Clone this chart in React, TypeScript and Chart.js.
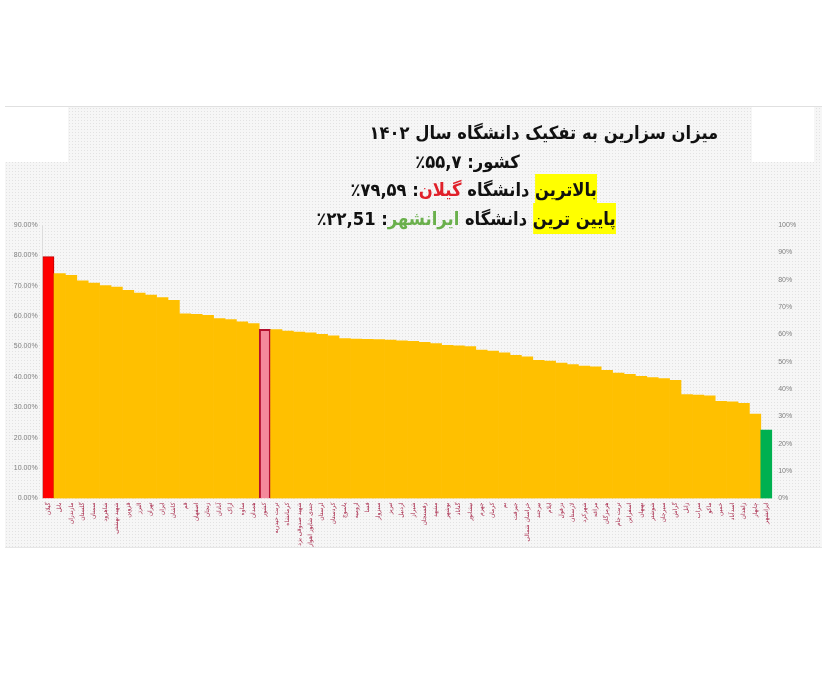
import React, { useEffect, useRef } from "react";
import { Chart, registerables } from "chart.js";

Chart.register(...registerables);

const categories: string[] = [
  "گیلان", "بابل", "مازندران", "گلستان", "سمنان", "شاهرود", "شهید بهشتی", "قزوین",
  "البرز", "تهران", "ایران", "کاشان", "قم", "اصفهان", "زنجان", "آبادان",
  "اراک", "ساوه", "همدان", "کشور", "تربت حیدریه", "کرمانشاه", "شهید صدوقی یزد", "جندی شاپور اهواز",
  "لرستان", "کردستان", "یاسوج", "ارومیه", "فسا", "سبزوار", "تبریز", "اردبیل",
  "شیراز", "رفسنجان", "مشهد", "بوشهر", "گناباد", "نیشابور", "جهرم", "کرمان",
  "بم", "جیرفت", "خراسان شمالی", "بیرجند", "ایلام", "دزفول", "لارستان", "شهرکرد",
  "مراغه", "هرمزگان", "تربت جام", "اسفراین", "بهبهان", "شوشتر", "سیرجان", "گراش",
  "زابل", "سراب", "ماکو", "خمین", "اسدآباد", "زاهدان", "چابهار", "ایرانشهر",
];

const values: number[] = [
  79.59, 74.0, 73.4, 71.6, 70.9, 70.1, 69.6, 68.5,
  67.6, 66.9, 66.1, 65.2, 60.8, 60.6, 60.3, 59.2,
  58.9, 58.1, 57.6, 55.7, 55.6, 55.1, 54.8, 54.5,
  54.0, 53.5, 52.6, 52.5, 52.4, 52.3, 52.1, 51.9,
  51.7, 51.4, 51.0, 50.4, 50.2, 50.0, 48.8, 48.5,
  47.9, 47.1, 46.6, 45.5, 45.2, 44.6, 44.1, 43.6,
  43.3, 42.2, 41.3, 40.9, 40.2, 39.8, 39.5, 38.9,
  34.2, 34.0, 33.8, 32.0, 31.8, 31.3, 27.8, 22.51,
];

const leftTicks: number[] = [0, 10, 20, 30, 40, 50, 60, 70, 80, 90];
const rightTicks: number[] = [0, 10, 20, 30, 40, 50, 60, 70, 80, 90, 100];

const HIGHEST = "گیلان";
const LOWEST = "ایرانشهر";
const COUNTRY = "کشور";

export default function App() {
  const ref = useRef<HTMLCanvasElement | null>(null);

  useEffect(() => {
    if (!ref.current) return;
    const bg = categories.map((c) =>
      c === HIGHEST ? "#FF0000" : c === LOWEST ? "#00B050" : c === COUNTRY ? "#F4899B" : "#FFC000"
    );
    const bc = categories.map((c) =>
      c === HIGHEST ? "#C00000" : c === LOWEST ? "#00A048" : c === COUNTRY ? "#B4102E" : "#FFC000"
    );
    const bw = categories.map((c) => (c === COUNTRY ? 2 : c === HIGHEST ? 1 : 0));

    const chart = new Chart(ref.current, {
      type: "bar",
      data: {
        labels: categories,
        datasets: [
          {
            data: values,
            backgroundColor: bg,
            borderColor: bc,
            borderWidth: bw,
            barPercentage: 1,
            categoryPercentage: 1,
            yAxisID: "y",
          },
        ],
      },
      options: {
        responsive: false,
        animation: false,
        devicePixelRatio: 1,
        layout: { padding: { top: 119, left: 0, right: 0, bottom: 0 } },
        plugins: { legend: { display: false }, tooltip: { enabled: false }, title: { display: false } },
        scales: {
          x: {
            grid: { display: false, drawTicks: false },
            border: { display: false },
            ticks: {
              autoSkip: false,
              maxRotation: 90,
              minRotation: 90,
              padding: 4,
              color: "#A8284A",
              font: { family: "DejaVu Sans", size: 6 },
            },
            afterFit: (s: any) => {
              s.height = 87.5;
            },
          },
          y: {
            position: "left",
            min: 0,
            max: 90,
            grid: { display: false, drawTicks: false },
            border: { display: true, color: "#dcdcdc" },
            afterBuildTicks: (s: any) => {
              s.ticks = leftTicks.map((v) => ({ value: v }));
            },
            ticks: {
              padding: 5,
              color: "#808080",
              font: { family: "Liberation Sans", size: 7 },
              callback: (v: any) => Number(v).toFixed(2) + "%",
            },
            afterFit: (s: any) => {
              s.width = 37.6;
            },
          },
          y1: {
            position: "right",
            min: 0,
            max: 100,
            grid: { display: false, drawTicks: false },
            border: { display: false },
            afterBuildTicks: (s: any) => {
              s.ticks = rightTicks.map((v) => ({ value: v }));
            },
            ticks: {
              padding: 6,
              color: "#808080",
              font: { family: "Liberation Sans", size: 7 },
              callback: (v: any) => v + "%",
            },
            afterFit: (s: any) => {
              s.width = 49.8;
            },
          },
        },
      },
    });
    return () => chart.destroy();
  }, []);

  const titleFont = "'DejaVu Sans', sans-serif";
  const line: React.CSSProperties = {
    position: "absolute",
    direction: "rtl",
    whiteSpace: "nowrap",
    fontFamily: titleFont,
    fontWeight: "bold",
    fontSize: 18,
    color: "#111",
    lineHeight: "24px",
    transform: "scaleX(0.91)",
    transformOrigin: "right center",
  };
  const hl: React.CSSProperties = { background: "#FFFF00", padding: "5px 0" };

  return (
    <div style={{ position: "fixed", left: 0, top: 0, width: 827, height: 675, background: "#ffffff", overflow: "hidden" }}>
      <div
        style={{
          position: "absolute",
          left: 5,
          top: 106,
          width: 817,
          height: 440,
          borderTop: "1px solid #e0e0e0",
          borderBottom: "1px solid #e6e6e6",
          backgroundColor: "#f6f6f6",
          backgroundImage: "radial-gradient(#e2e2e2 0.7px, transparent 0.9px)",
          backgroundSize: "3px 3px",
        }}
      />
      <div style={{ position: "absolute", left: 5, top: 107, width: 63, height: 55, background: "#ffffff" }} />
      <div style={{ position: "absolute", left: 752, top: 107, width: 62, height: 55, background: "#ffffff" }} />
      <canvas ref={ref} width={817} height={480} style={{ position: "absolute", left: 5, top: 106, width: 817, height: 480 }} />
      <div style={{ ...line, right: 827 - 718, top: 121 }}>میزان سزارین به تفکیک دانشگاه سال ۱۴۰۲</div>
      <div style={{ ...line, right: 827 - 520, top: 150 }}>کشور: ۵۵,۷٪</div>
      <div style={{ ...line, right: 827 - 597, top: 178 }}>
        <span style={hl}>بالاترین</span> دانشگاه <span style={{ color: "#E0202A" }}>گیلان</span>: ۷۹,۵۹٪
      </div>
      <div style={{ ...line, right: 827 - 616, top: 207 }}>
        <span style={hl}>پایین ترین</span> دانشگاه <span style={{ color: "#6AB04C" }}>ایرانشهر</span>: ۲۲,51٪
      </div>
    </div>
  );
}
